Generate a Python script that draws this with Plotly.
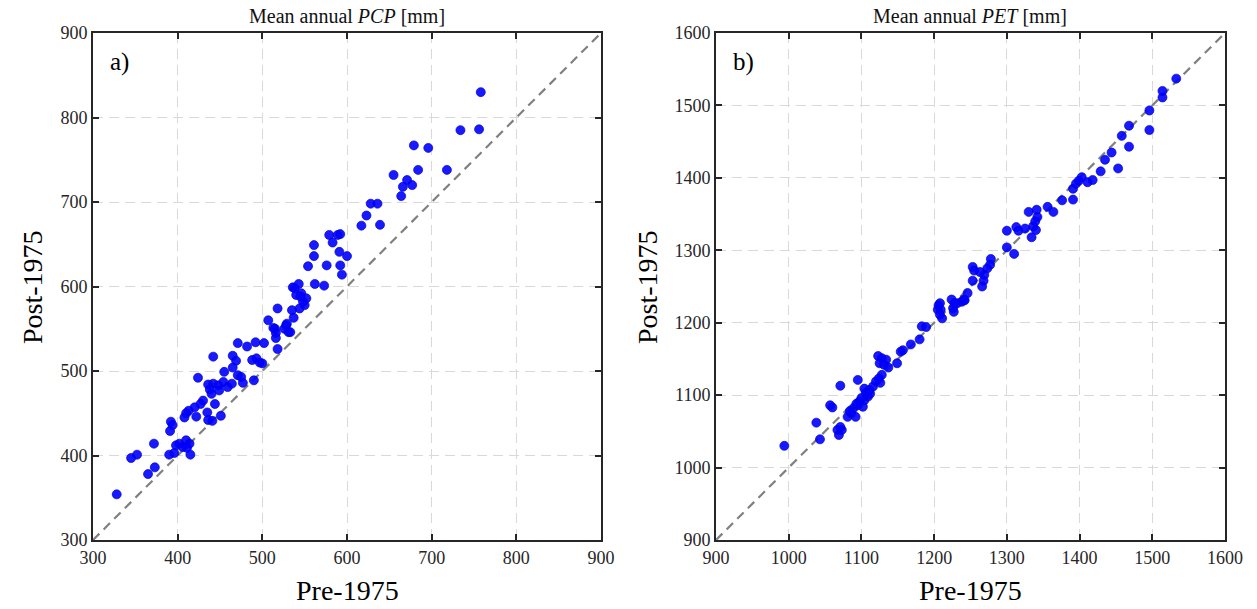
import plotly.graph_objects as go

# ---- Panel a: Mean annual PCP [mm] ----
pcp_pre = [758, 734, 756, 679, 696, 655, 684, 718, 671, 666, 677, 664, 628, 636, 623, 617, 639,
           579, 589, 592, 583, 561, 591, 600, 561, 554, 576, 592, 594, 562, 573, 543, 538, 540, 546,
           552, 550, 544, 535, 518, 537, 507, 528, 526, 515, 531, 516, 516, 518, 471, 482, 492, 502,
           442, 465, 493, 469, 488, 497, 500, 455, 465, 424, 471, 475, 477, 490, 436, 442, 448, 454,
           459, 464, 438, 449, 440, 430, 427, 420, 413, 410, 408, 444, 422, 435, 436, 441, 451, 392,
           394, 391, 372, 398, 402, 410, 414, 406, 411, 415, 390, 396, 345, 352, 365, 373, 328,
           548, 545, 536, 529, 533, 513]
pcp_post = [830, 785, 786, 767, 764, 732, 738, 738, 726, 718, 720, 707, 698, 698, 684, 672, 673,
            661, 661, 662, 652, 649, 641, 636, 636, 624, 625, 625, 614, 603, 601, 603, 598, 590, 592,
            586, 578, 574, 572, 574, 563, 560, 554, 550, 550, 546, 545, 539, 526, 533, 529, 534, 533,
            517, 518, 515, 512, 513, 510, 509, 499, 504, 492, 495, 493, 486, 489, 484, 485, 483, 487,
            481, 485, 478, 477, 473, 465, 461, 457, 453, 450, 445, 461, 446, 451, 442, 441, 447, 440,
            436, 429, 414, 412, 414, 418, 414, 410, 409, 401, 401, 403, 397, 401, 378, 386, 354,
            582, 588, 599, 556, 546, 551]

# ---- Panel b: Mean annual PET [mm] ----
pet_pre = [994, 1038, 1043, 1057, 1060, 1071, 1095, 1067, 1069, 1073, 1071,
           1081, 1086, 1092, 1089, 1095, 1097, 1102, 1104, 1106, 1109, 1104, 1111, 1116, 1120, 1126, 1128, 1124,
           1123, 1128, 1134, 1125, 1131, 1137, 1149, 1157, 1154, 1168, 1180, 1183, 1189,
           1206, 1209, 1205, 1208, 1211, 1224, 1226, 1227, 1232, 1238, 1241, 1246, 1253, 1255, 1253,
           1278, 1277, 1273, 1269, 1263, 1268, 1266, 1242, 1228, 1208,
           1300, 1310, 1300, 1313, 1316, 1325, 1334, 1340, 1336, 1339, 1342, 1341, 1330,
           1356, 1364, 1376, 1391, 1391, 1395, 1399, 1403, 1411, 1418,
           1429, 1453, 1435, 1444, 1468, 1458, 1496, 1468, 1496, 1514, 1514, 1533,
           1084, 1093, 1100, 1112]
pet_post = [1030, 1062, 1039, 1086, 1083, 1113, 1121, 1052, 1045, 1052, 1056,
            1070, 1075, 1070, 1082, 1086, 1091, 1084, 1093, 1103, 1098, 1109, 1107, 1112, 1119, 1117, 1128, 1123,
            1154, 1151, 1149, 1144, 1142, 1138, 1144, 1162, 1160, 1170, 1177, 1195, 1194,
            1224, 1218, 1218, 1211, 1206, 1232, 1220, 1215, 1227, 1229, 1232, 1241, 1277, 1272, 1258,
            1288, 1280, 1275, 1266, 1270, 1258, 1250, 1231, 1227, 1227,
            1304, 1295, 1327, 1332, 1327, 1330, 1318, 1328, 1333, 1340, 1346, 1356, 1353,
            1360, 1353, 1369, 1370, 1385, 1392, 1396, 1401, 1394, 1397,
            1409, 1413, 1425, 1435, 1443, 1458, 1466, 1472, 1493, 1511, 1520, 1537,
            1078, 1088, 1096, 1102]

pcp_range = [300, 900]
pet_range = [900, 1600]
pcp_ticks = [300, 400, 500, 600, 700, 800, 900]
pet_ticks = [900, 1000, 1100, 1200, 1300, 1400, 1500, 1600]

FONT = "Liberation Serif, Times New Roman, serif"
AX = "#262626"

fig = go.Figure()

marker = dict(color="rgba(0,0,255,0.9)", size=9, line=dict(color="rgb(0,0,215)", width=0.7))
diag = dict(color="#808080", width=2.2, dash="9px,6px")

fig.add_trace(go.Scatter(x=pcp_range, y=pcp_range, mode="lines", line=diag,
                         xaxis="x", yaxis="y", showlegend=False, hoverinfo="skip"))
fig.add_trace(go.Scatter(x=pcp_pre, y=pcp_post, mode="markers", marker=marker,
                         xaxis="x", yaxis="y", showlegend=False))
fig.add_trace(go.Scatter(x=pet_range, y=pet_range, mode="lines", line=diag,
                         xaxis="x2", yaxis="y2", showlegend=False, hoverinfo="skip"))
fig.add_trace(go.Scatter(x=pet_pre, y=pet_post, mode="markers", marker=marker,
                         xaxis="x2", yaxis="y2", showlegend=False))

def axis(rng, ticks, domain, anchor):
    return dict(range=rng, tickvals=ticks, domain=domain, anchor=anchor,
                showline=True, linecolor=AX, linewidth=2, mirror="ticks",
                ticks="inside", ticklen=6, tickwidth=1.5, tickcolor=AX,
                showgrid=True, gridcolor="#d9d9d9", griddash="10px,6px", gridwidth=1,
                zeroline=False, automargin=False,
                tickfont=dict(family=FONT, size=18, color=AX))

ydom = [69 / 609, 576 / 609]
fig.update_layout(
    width=1257, height=609, autosize=False,
    margin=dict(l=0, r=0, t=0, b=0, pad=0),
    paper_bgcolor="white", plot_bgcolor="white",
    xaxis=axis(pcp_range, pcp_ticks, [93 / 1257, 601 / 1257], "y"),
    yaxis=axis(pcp_range, pcp_ticks, ydom, "x"),
    xaxis2=axis(pet_range, pet_ticks, [716 / 1257, 1225 / 1257], "y2"),
    yaxis2=axis(pet_range, pet_ticks, ydom, "x2"),
    font=dict(family=FONT, color="black"),
)

ann = []
# titles
ann.append(dict(text="Mean annual <i>PCP</i> [mm]", x=347 / 1257, y=1 - 16 / 609,
                xref="paper", yref="paper", xanchor="center", yanchor="middle",
                showarrow=False, font=dict(size=20, family=FONT, color="#111")))
ann.append(dict(text="Mean annual <i>PET</i> [mm]", x=970 / 1257, y=1 - 16 / 609,
                xref="paper", yref="paper", xanchor="center", yanchor="middle",
                showarrow=False, font=dict(size=20, family=FONT, color="#111")))
# panel labels
ann.append(dict(text="a)", x=0.03, y=0.975, xref="x domain", yref="y domain", xanchor="left", yanchor="top",
                showarrow=False, font=dict(size=25, family=FONT, color="black")))
ann.append(dict(text="b)", x=0.03, y=0.975, xref="x2 domain", yref="y2 domain", xanchor="left", yanchor="top",
                showarrow=False, font=dict(size=25, family=FONT, color="black")))
# axis titles
for xc in (347, 970):
    ann.append(dict(text="Pre-1975", x=xc / 1257, y=1 - 590 / 609, xref="paper", yref="paper",
                    xanchor="center", yanchor="middle",
                    showarrow=False, font=dict(size=28, family=FONT, color="black")))
for xc in (32, 647):
    ann.append(dict(text="Post-1975", x=xc / 1257, y=1 - 287 / 609, xref="paper", yref="paper",
                    xanchor="center", yanchor="middle",
                    textangle=-90, showarrow=False, font=dict(size=28, family=FONT, color="black")))
fig.update_layout(annotations=ann)

fig.write_html("out.html", default_width="1257px", default_height="609px",
               post_script="document.body.style.margin='0';document.body.style.padding='0';")
